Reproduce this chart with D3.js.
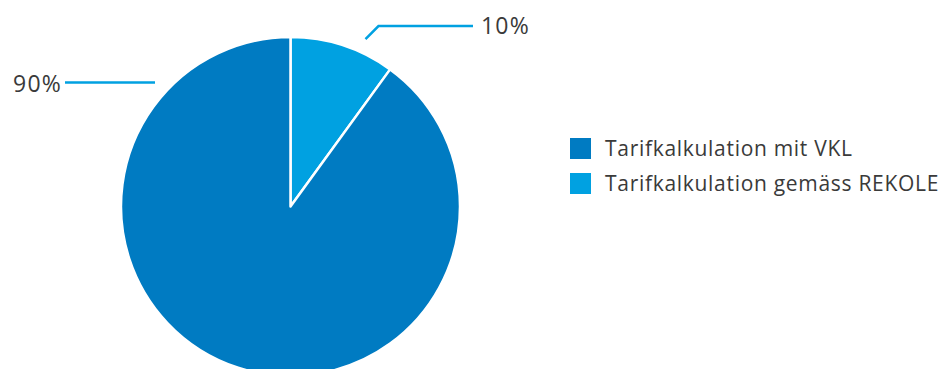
<!DOCTYPE html>
<html>
<head>
<meta charset="utf-8">
<script src="https://cdn.jsdelivr.net/npm/d3@7"></script>
<style>
  html, body { margin: 0; padding: 0; background: #fff; }
  svg { display: block; font-family: "Open Sans", "DejaVu Sans", sans-serif; }
</style>
</head>
<body>
<svg id="chart" width="939" height="369"></svg>
<script>
// Share of tariff calculation methods
const categories = ["Tarifkalkulation gemäss REKOLE", "Tarifkalkulation mit VKL"];
const values = [10, 90];
const valueLabels = ["10%", "90%"];
const colors = ["#00a1e1", "#007bc2"];
const legendOrder = ["Tarifkalkulation mit VKL", "Tarifkalkulation gemäss REKOLE"];

const svg = d3.select("#chart");
const cx = 290.5, cy = 206.5, radius = 169.5;
const textColor = "#3a3a3a";

const pie = d3.pie().sort(null).value(d => d.value);
const arcs = pie(categories.map((c, i) => ({ name: c, value: values[i], label: valueLabels[i] })));
const arc = d3.arc().innerRadius(0).outerRadius(radius);
const color = d3.scaleOrdinal().domain(categories).range(colors);

const g = svg.append("g").attr("transform", `translate(${cx},${cy})`);
g.selectAll("path.slice")
  .data(arcs)
  .join("path")
  .attr("class", "slice")
  .attr("d", arc)
  .attr("fill", d => color(d.data.name))
  .attr("stroke", "#fff")
  .attr("stroke-width", 2.5)
  .attr("stroke-linejoin", "round");

const lineColor = "#00a1e1";

// 10% slice: short diagonal out from the rim, then horizontal to the right
{
  const d = arcs[0];
  const a = d.startAngle + (d.endAngle - d.startAngle) * 0.67;
  const r0 = radius + 14;
  const p0 = [Math.sin(a) * r0 + cx, -Math.cos(a) * r0 + cy];
  const p1 = [p0[0] + 13, p0[1] - 13];
  const p2 = [473, p1[1]];
  svg.append("polyline")
    .attr("points", [p0, p1, p2].map(p => p.join(",")).join(" "))
    .attr("fill", "none").attr("stroke", lineColor).attr("stroke-width", 2.5);
  svg.append("text")
    .attr("x", 481).attr("y", p1[1] + 8)
    .attr("font-size", 23).attr("letter-spacing", 1.2).attr("fill", textColor)
    .text(d.data.label);
}
// 90% slice: horizontal leader to the left
{
  const d = arcs[1];
  const y = 82.5;
  svg.append("line")
    .attr("x1", 65).attr("x2", 155).attr("y1", y).attr("y2", y)
    .attr("stroke", lineColor).attr("stroke-width", 2.5);
  svg.append("text")
    .attr("x", 62).attr("y", y + 9).attr("text-anchor", "end")
    .attr("font-size", 23).attr("letter-spacing", 1.2).attr("fill", textColor)
    .text(d.data.label);
}

// Legend
const legend = svg.append("g").attr("transform", "translate(570,138)");
const rowY = d3.scalePoint().domain(legendOrder).range([0, 35]);
const items = legend.selectAll("g.item").data(legendOrder).join("g")
  .attr("class", "item")
  .attr("transform", d => `translate(0,${rowY(d)})`);
items.append("rect").attr("width", 21).attr("height", 21).attr("fill", d => color(d));
items.append("text").attr("x", 35).attr("y", 18)
  .attr("font-size", 21).attr("letter-spacing", 0.7).attr("fill", textColor)
  .text(d => d);
</script>
</body>
</html>
